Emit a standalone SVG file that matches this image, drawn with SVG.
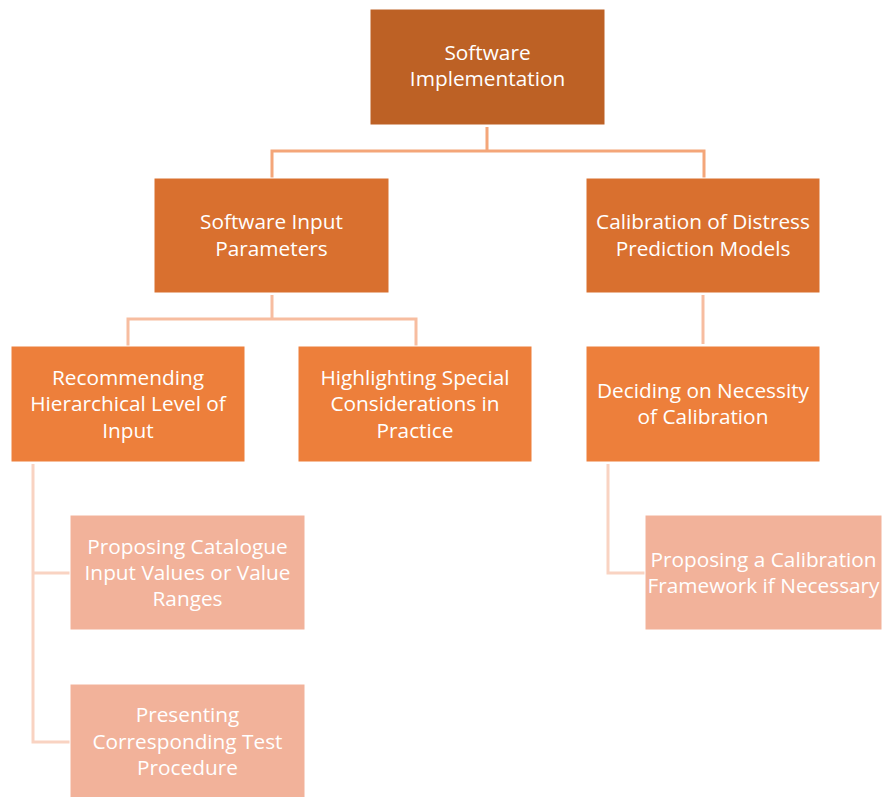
<svg xmlns="http://www.w3.org/2000/svg" width="882" height="797" viewBox="0 0 882 797">
<style>
text{font-family:"Open Sans","Noto Sans",sans-serif;font-size:20.8px;fill:#fff;text-anchor:middle}
.c1{fill:#BD6125}.c2{fill:#D9702F}.c3{fill:#ED7F3B}.c4{fill:#F2B29A}
rect{stroke:#fff;stroke-width:1}
.l1{stroke:#F4A679;stroke-width:3;fill:none}
.l2{stroke:#F7BDA0;stroke-width:3;fill:none}
.l3{stroke:#F9D3C2;stroke-width:3;fill:none}
</style>
<rect width="882" height="797" fill="#fff" stroke="none"/>
<g id="connectors">
<path class="l1" d="M487,127V151M272,178V151H704V178"/>
<path class="l2" d="M272,295V319M128,346V319H416V346"/>
<path class="l2" d="M703,295V344"/>
<path class="l3" d="M33,464V742H70M33,573H70"/>
<path class="l3" d="M608,464V573H645"/>
</g>
<g id="n1"><rect class="c1" x="370" y="9" width="235" height="116"/><text x="487.5" y="60">Software</text><text x="487.5" y="86">Implementation</text></g>
<g id="n2"><rect class="c2" x="154" y="178" width="235" height="115"/><text x="271.5" y="229">Software Input</text><text x="271.5" y="256">Parameters</text></g>
<g id="n3"><rect class="c2" x="586" y="178" width="234" height="115"/><text x="703" y="229">Calibration of Distress</text><text x="703" y="256">Prediction Models</text></g>
<g id="n4"><rect class="c3" x="11" y="346" width="234" height="116"/><text x="128" y="385">Recommending</text><text x="128" y="411">Hierarchical Level of</text><text x="128" y="438">Input</text></g>
<g id="n5"><rect class="c3" x="298" y="346" width="234" height="116"/><text x="415" y="385">Highlighting Special</text><text x="415" y="411">Considerations in</text><text x="415" y="438">Practice</text></g>
<g id="n6"><rect class="c3" x="586" y="346" width="234" height="116"/><text x="703" y="398">Deciding on Necessity</text><text x="703" y="424">of Calibration</text></g>
<g id="n7"><rect class="c4" x="70" y="515" width="235" height="115"/><text x="187.5" y="554">Proposing Catalogue</text><text x="187.5" y="580">Input Values or Value</text><text x="187.5" y="606">Ranges</text></g>
<g id="n8"><rect class="c4" x="70" y="684" width="235" height="114"/><text x="187.5" y="722">Presenting</text><text x="187.5" y="749">Corresponding Test</text><text x="187.5" y="775">Procedure</text></g>
<g id="n9"><rect class="c4" x="645" y="515" width="237" height="115"/><text x="763.5" y="567">Proposing a Calibration</text><text x="763.5" y="593">Framework if Necessary</text></g>
</svg>
